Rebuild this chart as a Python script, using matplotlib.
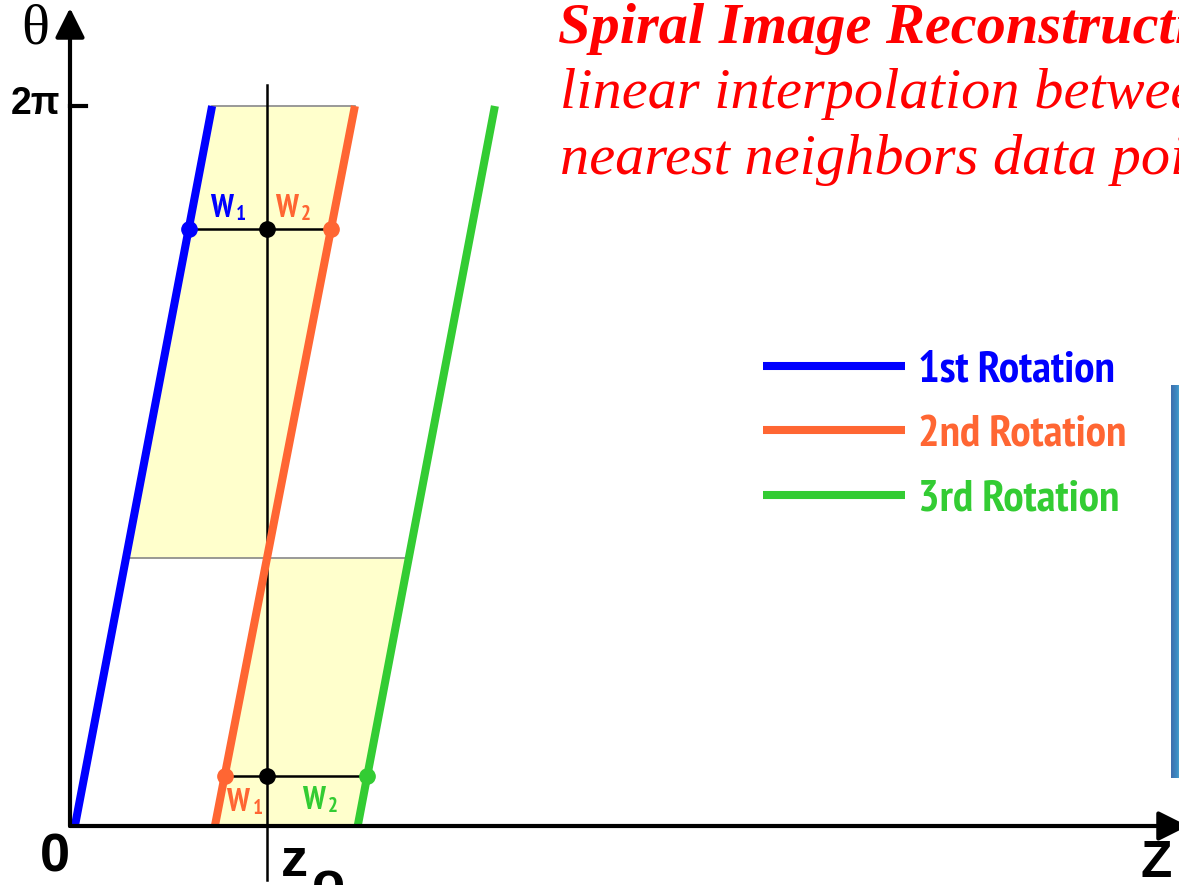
import numpy as np
import matplotlib.pyplot as plt
from matplotlib import font_manager
from matplotlib.font_manager import FontProperties
from matplotlib.textpath import TextPath
from matplotlib.colors import LinearSegmentedColormap

# spiral tracks: z (table feed, 1 unit per rotation) at theta = 0 and at theta = 2pi
rotations = ['1st Rotation', '2nd Rotation', '3rd Rotation']
colors = ['#0000ff', '#ff6633', '#33cc33']
z_start = [0.035, 1.035, 2.055]
z_end = [1.015, 2.035, 3.035]
theta_max = 2 * np.pi

z0 = 1.407                       # reconstruction plane
theta_up = 0.829 * theta_max     # example angle, between rotation 1 and 2
theta_low = 0.069 * theta_max    # example angle, between rotation 2 and 3


def track(i, th):
    return z_start[i] + (z_end[i] - z_start[i]) * th / theta_max


# angle where the 2nd rotation crosses z0
theta_split = (z0 - z_start[1]) / (z_end[1] - z_start[1]) * theta_max


# fonts: condensed bold for legend / weights, plain bold sans for the axis labels
def weight_of(f):
    w = f.weight
    if isinstance(w, str):
        w = font_manager.weight_dict.get(w, 400)
    return w


fonts = font_manager.fontManager.ttflist
cond = [f for f in fonts
        if ('Condensed' in f.fname or 'Narrow' in f.fname or 'Condensed' in f.name or 'Narrow' in f.name)
        and f.style == 'normal' and weight_of(f) >= 600]
cond.sort(key=lambda f: (0 if 'Narrow' in f.fname else 1, abs(weight_of(f) - 700)))
if cond:
    narrow = dict(fname=cond[0].fname)
else:
    narrow = dict(family='Roboto', weight='bold')

bold = [f for f in fonts if f.name == 'Liberation Sans' and 'Narrow' not in f.fname
        and f.style == 'normal' and weight_of(f) >= 600]
sans_bold = dict(fname=bold[0].fname) if bold else dict(family='DejaVu Sans', weight='bold')

# legend font size so that "1st Rotation" is about 193 px wide
leg_prop = FontProperties(size=10, **narrow)
w10 = TextPath((0, 0), rotations[0], prop=leg_prop).get_extents().width * 100 / 72
leg_size = min(34, 10 * 193 / w10)
leg_prop = FontProperties(size=leg_size, **narrow)

W, H = 1179, 885
fig = plt.figure(figsize=(W / 100, H / 100), dpi=100)
ax = fig.add_axes([0, 0, 1, 1])
X0, SX = 70, 140
Y0, SY = 826, 720 / theta_max
ax.set_xlim(-X0 / SX, (W - X0) / SX)
ax.set_ylim((Y0 - H) / SY, Y0 / SY)
ax.axis('off')


def fx(x):
    return x / W


def fy(y):
    return 1 - y / H


# yellow areas used for the interpolation
th = np.linspace(theta_split, theta_max, 50)
ax.fill_betweenx(th, track(0, th), track(1, th), color='#ffffcc', lw=0, zorder=0)
th = np.linspace(0, theta_split, 50)
ax.fill_betweenx(th, track(1, th), track(2, th), color='#ffffcc', lw=0, zorder=0)

# grey borders
ax.plot([track(0, theta_max), track(1, theta_max)], [theta_max] * 2, color='#888888', lw=1.2, zorder=1)
ax.plot([track(0, theta_split), track(2, theta_split)], [theta_split] * 2, color='#888888', lw=1.2, zorder=1)

# z0 line
ax.plot([z0, z0], [-54 / SY, 741 / SY], color='black', lw=1.8, zorder=2)

# connectors
ax.plot([track(0, theta_up), track(1, theta_up)], [theta_up] * 2, color='black', lw=1.8, zorder=2)
ax.plot([track(1, theta_low), track(2, theta_low)], [theta_low] * 2, color='black', lw=1.8, zorder=2)

# spiral tracks
for i in range(3):
    ax.plot([z_start[i], z_end[i]], [0, theta_max], color=colors[i], lw=5.8,
            solid_capstyle='butt', label=rotations[i], zorder=3)

# data points
ax.plot(track(0, theta_up), theta_up, 'o', color=colors[0], ms=11, zorder=4)
ax.plot(track(1, theta_up), theta_up, 'o', color=colors[1], ms=11, zorder=4)
ax.plot(track(1, theta_low), theta_low, 'o', color=colors[1], ms=11, zorder=4)
ax.plot(track(2, theta_low), theta_low, 'o', color=colors[2], ms=11, zorder=4)
ax.plot([z0, z0], [theta_up, theta_low], 'o', color='black', ms=11, zorder=4)

# weights W1 / W2
w_prop = FontProperties(size=23, **narrow)
s_prop = FontProperties(size=15, **narrow)
w_width = TextPath((0, 0), 'W', prop=w_prop).get_extents().x1 * 100 / 72


def weight_label(xy, dx, dy, digit, color):
    ax.annotate('W', xy, xytext=(dx, dy), textcoords='offset pixels', color=color,
                fontproperties=w_prop, va='baseline', ha='left', zorder=5)
    ax.annotate(digit, xy, xytext=(dx + w_width + 3, dy - 3), textcoords='offset pixels', color=color,
                fontproperties=s_prop, va='baseline', ha='left', zorder=5)


weight_label((track(0, theta_up), theta_up), 21, 12, '1', colors[0])
weight_label((z0, theta_up), 8, 12, '2', colors[1])
weight_label((track(1, theta_low), theta_low), 2, -35, '1', colors[1])
weight_label((z0, theta_low), 35, -33, '2', colors[2])

# axes with arrows
arrow = dict(arrowstyle='-|>', lw=3, color='black', mutation_scale=45, shrinkA=0, shrinkB=0)
ax.annotate('', xy=(0, (Y0 - 8) / SY), xytext=(0, 0), arrowprops=arrow, annotation_clip=False)
ax.annotate('', xy=((1188 - X0) / SX, 0), xytext=(0, 0), arrowprops=arrow, annotation_clip=False)
ax.plot([0, 16 / SX], [theta_max] * 2, color='black', lw=3)

# axis texts
fig.text(fx(35), fy(30), 'θ', fontsize=42, family='Liberation Serif', ha='center', va='center')
fig.text(fx(35), fy(104), '2π', fontproperties=FontProperties(size=27, **sans_bold), ha='center', va='center')
fig.text(fx(40), fy(872), '0', fontproperties=FontProperties(size=39, **sans_bold), ha='left', va='baseline')
fig.text(fx(1141), fy(877), 'Z', fontproperties=FontProperties(size=37, **sans_bold), ha='left', va='baseline')
fig.text(fx(281), fy(876), 'z', fontproperties=FontProperties(size=39, **sans_bold), ha='left', va='baseline')
fig.text(fx(312), fy(900), 'o', fontproperties=FontProperties(size=39, **sans_bold), ha='left', va='baseline')

# title
tfont = dict(color='#ff0000', fontsize=42, family='Liberation Serif', style='italic', va='baseline', ha='left')
fig.text(fx(558), fy(43), 'Spiral Image Reconstruction', weight='bold', **tfont)
fig.text(fx(560), fy(108), 'linear interpolation between', **tfont)
fig.text(fx(560), fy(174), 'nearest neighbors data points', **tfont)

# legend
size_px = leg_size * 100 / 72
ax.legend(loc='upper left', bbox_to_anchor=(fx(763), fy(350)), bbox_transform=fig.transFigure,
          frameon=False, prop=leg_prop,
          handlelength=142 / size_px, handletextpad=13 / size_px, labelspacing=69 / size_px - 1.0,
          borderpad=0, borderaxespad=0, labelcolor='linecolor')

# partly visible panel at the right edge
bar = fig.add_axes([fx(1171), fy(778), fx(12), 393 / H])
cmap = LinearSegmentedColormap.from_list('bar', ['#3f6fae', '#3d8cc4', '#66c6dc'])
bar.imshow(np.linspace(0, 1, 20)[None, :], aspect='auto', cmap=cmap)
bar.axis('off')

fig.savefig('out.png', dpi=100)
